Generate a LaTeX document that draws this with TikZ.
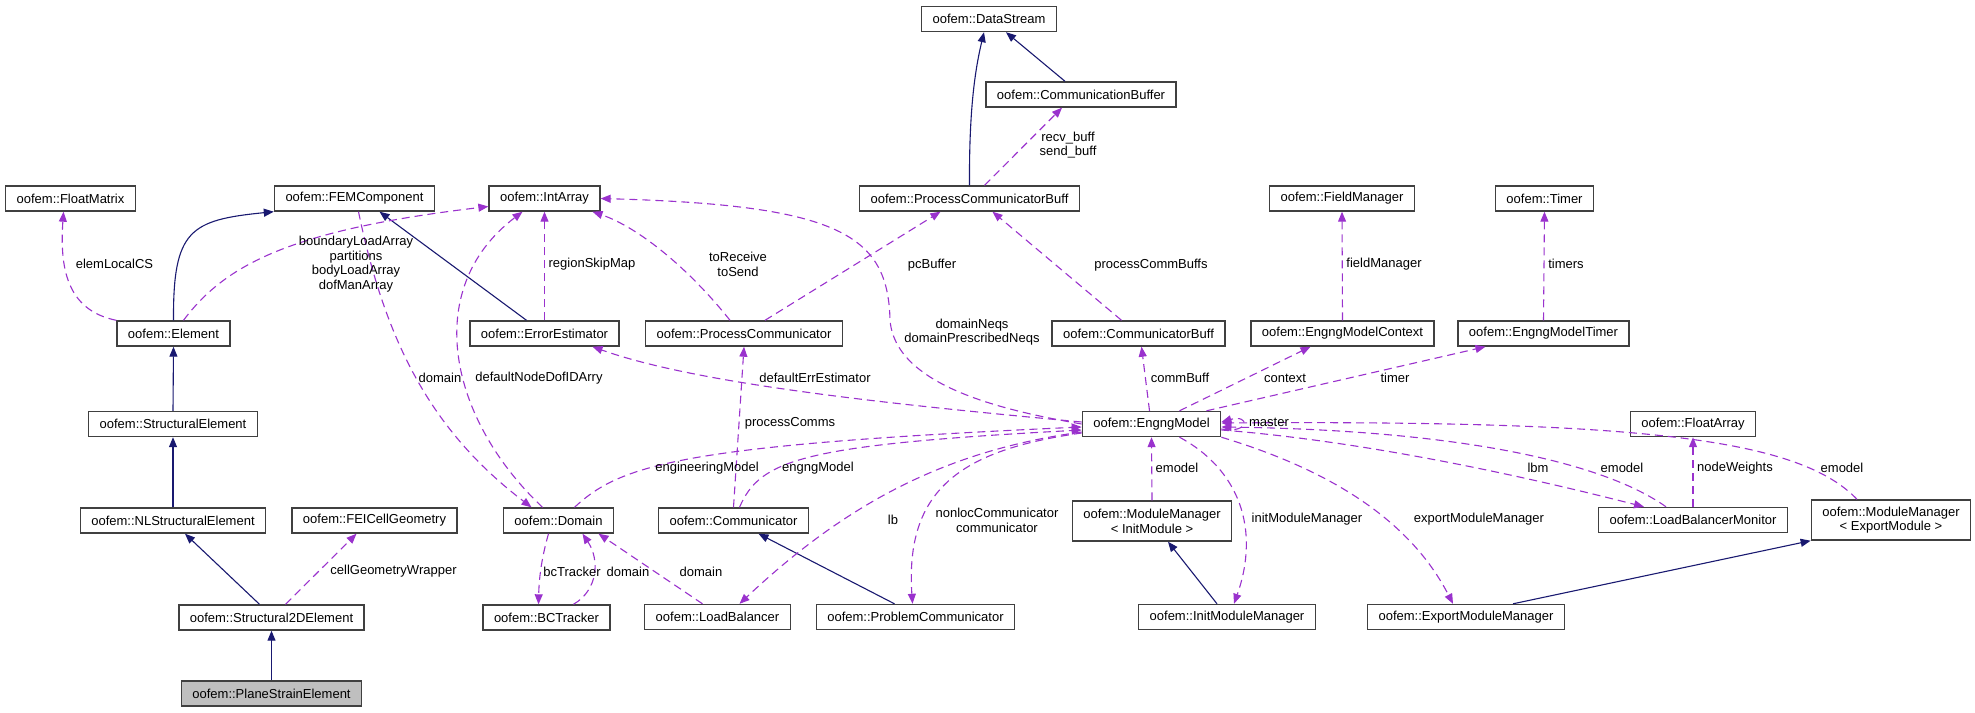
\documentclass[tikz,border=0pt]{standalone}
\usepackage{fontspec}
\setmainfont{Liberation Sans}
\usepackage{tikz}
\usetikzlibrary{arrows.meta}
\definecolor{dxpurple}{HTML}{9A32CD}
\definecolor{dxnavy}{HTML}{191970}

\begin{document}
\begin{tikzpicture}[x=1pt,y=-1pt,
  box/.style={draw=black!75,line width=1.4pt,fill=white,minimum height=25pt,inner xsep=11pt,inner ysep=2pt,font=\fontsize{13}{14.7}\selectfont,align=center},
  member/.style={draw=dxpurple,line width=1.1pt,dash pattern=on 8pt off 5pt,-{Triangle[length=10pt,width=8pt]}},
  inherit/.style={draw=dxnavy,line width=1.1pt,-{Triangle[length=10pt,width=8pt]}},
  lbl/.style={font=\fontsize{13}{14.7}\selectfont,align=center,inner sep=1pt}]

\useasboundingbox (0,0) rectangle (1975,712);

\foreach \Name/\Point/\Text in {datastream/{(989,19)}/oofem::DataStream, commbuffer/{(1081,94.5)}/oofem::CommunicationBuffer,
    floatmatrix/{(70.5,198.5)}/oofem::FloatMatrix, femcomp/{(354.5,198.5)}/oofem::FEMComponent, intarray/{(544.5,198.5)}/oofem::IntArray,
    pcbuff/{(969.5,198.5)}/oofem::ProcessCommunicatorBuff, fieldmgr/{(1342,198.5)}/oofem::FieldManager, timer/{(1544.5,198.5)}/oofem::Timer,
    element/{(173.5,333.5)}/oofem::Element, errest/{(544.5,333.5)}/oofem::ErrorEstimator, proccomm/{(744,333.5)}/oofem::ProcessCommunicator,
    commbuff/{(1138.5,333.5)}/oofem::CommunicatorBuff, emcontext/{(1342.5,333.5)}/oofem::EngngModelContext, emtimer/{(1543.5,333.5)}/oofem::EngngModelTimer,
    structel/{(173,424)}/oofem::StructuralElement, engng/{(1151.5,424)}/oofem::EngngModel, floatarray/{(1693,424)}/oofem::FloatArray,
    nlstructel/{(173,520.5)}/oofem::NLStructuralElement, feicell/{(374.5,520.5)}/oofem::FEICellGeometry, domain/{(558.5,520.5)}/oofem::Domain,
    communicator/{(733.5,520.5)}/oofem::Communicator, lbmonitor/{(1693,520)}/oofem::LoadBalancerMonitor,
    s2del/{(271.5,617.5)}/oofem::Structural2DElement, bctracker/{(546.5,617.5)}/oofem::BCTracker, loadbal/{(717.5,617)}/oofem::LoadBalancer,
    probcomm/{(915.5,617)}/oofem::ProblemCommunicator, initmm/{(1227,617)}/oofem::InitModuleManager, exportmm/{(1466,617)}/oofem::ExportModuleManager}{
    \node[box] (\Name) at \Point {\Text};
}
\node[box,minimum height=40pt] (mminit) at (1152,521) {oofem::ModuleManager\\< InitModule >};
\node[box,minimum height=40pt] (mmexport) at (1891,520) {oofem::ModuleManager\\< ExportModule >};
\node[box,fill=black!25] (planestrain) at (271.5,693.5) {oofem::PlaneStrainElement};

% inheritance
\foreach \From/\Fx/\To/\Tx in {planestrain.north/0/s2del.south/0, s2del.north/-12/nlstructel.south/12, nlstructel.north/0/structel.south/0,
    structel.north/0/element.south/0, errest.north/-18/femcomp.south/25, commbuffer.north/-16/datastream.south/17,
    probcomm.north/-21/communicator.south/25, initmm.north/-10/mminit.south/16, exportmm.north/47/mmexport.south west/0}{
    \draw[inherit] ([xshift=\Fx pt]\From) -- ([xshift=\Tx pt]\To);
}
\draw[inherit] (element.north) .. controls (173,230) and (190,220) .. (femcomp.south west);
\draw[inherit] (pcbuff.north) .. controls (969,110) and (975,70) .. ([xshift=-5pt]datastream.south);

% members
\foreach \From/\Fx/\To/\Tx in {errest.north/0/intarray.south/0, proccomm.north/21/pcbuff.south/-29, communicator.north/0/proccomm.south/0,
    loadbal.north/-15/domain.south/40, s2del.north/14/feicell.south/-18, commbuff.north/-17/pcbuff.south/23,
    pcbuff.north/15/commbuffer.south/-19, engng.north/-2/commbuff.south/3, engng.north/28/emcontext.south/-32,
    engng.north/55/emtimer.south/-58, emcontext.north/0/fieldmgr.south/0, emtimer.north/0/timer.south/0,
    mminit.north/0/engng.south/0, lbmonitor.north/0/floatarray.south/0}{
    \draw[member] ([xshift=\Fx pt]\From) -- ([xshift=\Tx pt]\To);
}
\draw[member] (element.north west) .. controls (65,310) and (60,265) .. ([xshift=-7pt]floatmatrix.south);
\draw[member] ([xshift=10pt]element.north) .. controls (225,265) and (290,230) .. ([yshift=-8pt]intarray.west);
\draw[member] ([xshift=4pt]femcomp.south) .. controls (385,340) and (430,430) .. ([xshift=-27pt]domain.north);
\draw[member] ([xshift=-16pt]domain.north) .. controls (450,420) and (420,290) .. ([xshift=-22pt]intarray.south);
\draw[member] ([xshift=-14pt]proccomm.north) .. controls (690,270) and (640,228) .. ([xshift=48pt]intarray.south);
\draw[member] (engng.west) .. controls (1000,410) and (895,385) .. (890,320) .. controls (888,235) and (840,205) .. (intarray.east);
\draw[member] ([yshift=2pt]engng.west) .. controls (900,405) and (700,385) .. ([xshift=48pt]errest.south);
\draw[member] ([xshift=16pt]domain.north) .. controls (620,465) and (680,445) .. ([yshift=-3pt]engng.west);
\draw[member] ([xshift=6pt]communicator.north) .. controls (760,460) and (800,445) .. ([yshift=-6pt]engng.west);
\draw[member] ([yshift=-8pt]engng.west) .. controls (950,450) and (850,500) .. ([xshift=22pt]loadbal.north);
\draw[member] ([yshift=-9pt]engng.west) .. controls (960,450) and (905,490) .. ([xshift=-3pt]probcomm.north);
\draw[member] ([xshift=-10pt]domain.south) .. controls (541,560) and (539,580) .. ([xshift=-8pt]bctracker.north);
\draw[member] ([xshift=27pt]bctracker.north) .. controls (598,590) and (600,560) .. ([xshift=24pt]domain.south);
\draw[member] ([xshift=28pt]engng.south) .. controls (1240,470) and (1260,530) .. ([xshift=7pt]initmm.north);
\draw[member] (engng.south east) .. controls (1330,470) and (1410,520) .. ([xshift=-13pt]exportmm.north);
\draw[member] ([yshift=-6pt]engng.east) .. controls (1350,440) and (1500,470) .. ([xshift=-49pt]lbmonitor.north);
\draw[member] ([xshift=-27pt]lbmonitor.north) .. controls (1600,460) and (1450,430) .. ([yshift=-3pt]engng.east);
\draw[member] ([xshift=-34pt]mmexport.north) .. controls (1800,440) and (1650,420) .. ([yshift=1pt]engng.east);
\draw[member] ([yshift=-5pt]engng.east) .. controls (1250,434) and (1250,414) .. ([yshift=2pt]engng.east);

% labels
\foreach \Name/\Point/\Text in {l-elemlocalcs/{(114.5,264)}/elemLocalCS, l-loadarray/{(356,264)}/{boundaryLoadArray\\partitions\\bodyLoadArray\\dofManArray},
    l-domain/{(440,378)}/domain, l-nodedof/{(539,378)}/defaultNodeDofIDArry, l-regionskip/{(592,264)}/regionSkipMap,
    l-toreceive/{(738,264)}/{toReceive\\toSend}, l-pcbuffer/{(932,265)}/pcBuffer, l-neqs/{(972,332)}/{domainNeqs\\domainPrescribedNeqs},
    l-errest/{(815,378)}/defaultErrEstimator, l-proccomms/{(790,423)}/processComms, l-engmodel/{(707,468)}/engineeringModel,
    l-engngmodel/{(818,468)}/engngModel, l-lb/{(893,520)}/lb, l-nonloc/{(997,520)}/{nonlocCommunicator\\communicator},
    l-bctracker/{(572,572)}/bcTracker, l-bcdomain/{(628,572)}/domain, l-lbdomain/{(701,572)}/domain,
    l-cellgeo/{(393.5,571)}/cellGeometryWrapper, l-commbuffs/{(1151,265)}/processCommBuffs, l-buff/{(1068,145)}/{recv\_buff\\send\_buff},
    l-commbuff/{(1180,378)}/commBuff, l-context/{(1285,378)}/context, l-timer/{(1395,378)}/timer,
    l-fieldmgr/{(1384,264)}/fieldManager, l-timers/{(1566,264)}/timers, l-master/{(1269,422)}/master,
    l-emodel/{(1177,468)}/emodel, l-initmm/{(1307,519)}/initModuleManager, l-exportmm/{(1479,519)}/exportModuleManager,
    l-lbm/{(1538,468)}/lbm, l-lbemodel/{(1622,468)}/emodel, l-weights/{(1735,468)}/nodeWeights, l-exemodel/{(1842,468)}/emodel}{
    \node[lbl] (\Name) at \Point {\Text};
}

\end{tikzpicture}
\end{document}
